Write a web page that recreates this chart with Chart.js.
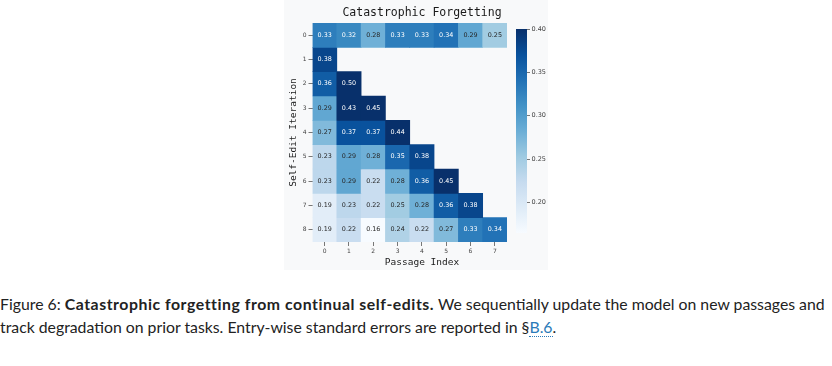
<!DOCTYPE html>
<html lang="en">
<head>
<meta charset="utf-8">
<title>Catastrophic Forgetting</title>
<style>
body, html { margin: 0; background: #fff; }
#panel { position: absolute; left: 284px; top: 0; width: 264px; height: 270px; background: #f8f9fa; }
#heat { position: absolute; left: 284px; top: 0; }
#cbar { position: absolute; left: 510px; top: 0; }
#caption { position: absolute; left: 0; top: 292px; width: 832px; font-family: Lato, sans-serif; font-size: 15.8px; line-height: 23px; color: #222; }
#caption div { white-space: nowrap; }
#caption b { letter-spacing: 0.55px; }
#caption a { color: #2a7ab8; text-decoration: none; border-bottom: 1px dotted #2a7ab8; }
</style>
<script src="https://cdn.jsdelivr.net/npm/chart.js@4"></script>
</head>
<body>
<div id="panel"></div>
<canvas id="heat" width="276" height="270"></canvas>
<canvas id="cbar" width="50" height="270"></canvas>
<div id="caption">
  <div>Figure 6: <b>Catastrophic forgetting from continual self-edits.</b> We sequentially update the model on new passages and</div>
  <div>track degradation on prior tasks. Entry-wise standard errors are reported in §<a href="#">B.6</a>.</div>
</div>
<script>
// data
const passages = ['0', '1', '2', '3', '4', '5', '6', '7'];
const iterations = [0, 1, 2, 3, 4, 5, 6, 7, 8];
const row0 = [0.33, 0.32, 0.28, 0.33, 0.33, 0.34, 0.29, 0.25];
const row1 = [0.38];
const row2 = [0.36, 0.50];
const row3 = [0.29, 0.43, 0.45];
const row4 = [0.27, 0.37, 0.37, 0.44];
const row5 = [0.23, 0.29, 0.28, 0.35, 0.38];
const row6 = [0.23, 0.29, 0.22, 0.28, 0.36, 0.45];
const row7 = [0.19, 0.23, 0.22, 0.25, 0.28, 0.36, 0.38];
const row8 = [0.19, 0.22, 0.16, 0.24, 0.22, 0.27, 0.33, 0.34];
const rows = [row0, row1, row2, row3, row4, row5, row6, row7, row8];
const cbarTicks = [0.20, 0.25, 0.30, 0.35, 0.40];
const vmin = 0.165, vmax = 0.40;

const MONO = '"DejaVu Sans Mono", monospace';
const SANS = '"DejaVu Sans", sans-serif';

// matplotlib "Blues"
const blueStops = ['#f7fbff', '#deebf7', '#c6dbef', '#9ecae1', '#6baed6', '#4292c6', '#2171b5', '#08519c', '#08306b'];
function hexRgb(h) { return [1, 3, 5].map(i => parseInt(h.substr(i, 2), 16)); }
function blues(v) {
    let t = (v - vmin) / (vmax - vmin);
    t = Math.max(0, Math.min(1, t)) * 8;
    const i = Math.min(7, Math.floor(t)), f = t - i;
    const a = hexRgb(blueStops[i]), b = hexRgb(blueStops[i + 1]);
    const c = a.map((x, k) => Math.round(x + (b[k] - x) * f));
    return 'rgb(' + c.join(',') + ')';
}

// numbers inside the cells
const cellText = {
    id: 'cellText',
    afterDatasetsDraw(chart) {
        const ctx = chart.ctx;
        ctx.save();
        ctx.font = '6.4px ' + SANS;
        ctx.textAlign = 'center';
        ctx.textBaseline = 'middle';
        chart.data.datasets.forEach((ds, r) => {
            chart.getDatasetMeta(r).data.forEach((el, c) => {
                const v = rows[r][c];
                if (v === undefined) return;
                ctx.fillStyle = v >= 0.30 ? '#ffffff' : '#262626';
                ctx.fillText(v.toFixed(2), el.x, (el.y + el.base) / 2);
            });
        });
        ctx.restore();
    }
};

const datasets = iterations.map((it, r) => ({
    label: 'Iteration ' + it,
    data: passages.map((p, c) => c < rows[r].length ? [it - 0.5, it + 0.5] : null),
    backgroundColor: passages.map((p, c) => c < rows[r].length ? blues(rows[r][c]) : 'transparent'),
    borderWidth: 0,
    barPercentage: 1,
    categoryPercentage: 1
}));

const tickFont = { family: SANS, size: 6 };

new Chart(document.getElementById('heat'), {
    type: 'bar',
    data: { labels: passages, datasets: datasets },
    options: {
        responsive: false,
        animation: false,
        layout: { padding: 0 },
        plugins: {
            legend: { display: false },
            tooltip: { enabled: false },
            title: {
                display: true,
                text: 'Catastrophic Forgetting',
                color: '#1a1a1a',
                font: { family: MONO, size: 11.5, weight: 'normal' },
                padding: { top: 6, bottom: 3.2 }
            },
            subtitle: {
                display: true,
                position: 'bottom',
                text: 'Passage Index',
                color: '#1a1a1a',
                font: { family: MONO, size: 9.5, weight: 'normal' },
                padding: { top: 1, bottom: 1.6 }
            }
        },
        scales: {
            x: {
                stacked: true,
                offset: true,
                grid: { offset: false, drawOnChartArea: false, tickLength: 4, tickColor: '#555', tickWidth: 0.8 },
                border: { display: false },
                ticks: { font: tickFont, color: '#444', padding: 2, maxRotation: 0 },
                afterFit: s => { s.height = 14; }
            },
            y: {
                type: 'linear',
                reverse: true,
                min: -0.5,
                max: 8.5,
                afterBuildTicks: s => { s.ticks = iterations.map(v => ({ value: v })); },
                ticks: { font: tickFont, color: '#444', padding: 2, callback: v => String(v) },
                grid: { drawOnChartArea: false, tickLength: 4, tickColor: '#555', tickWidth: 0.8 },
                border: { display: false },
                title: {
                    display: true,
                    text: 'Self-Edit Iteration',
                    color: '#1a1a1a',
                    font: { family: MONO, size: 9.5 },
                    padding: { top: 3.5, bottom: 0 }
                },
                afterFit: s => { s.width = 28.5; }
            },
            pad: {
                type: 'linear',
                position: 'right',
                grid: { display: false },
                ticks: { display: false },
                border: { display: false },
                afterFit: s => { s.width = 53; }
            }
        }
    },
    plugins: [cellText]
});

// colour bar
function barGradient(chart) {
    const area = chart.chartArea;
    if (!area) return blues(vmax);
    const g = chart.ctx.createLinearGradient(0, area.bottom, 0, area.top);
    blueStops.forEach((col, i) => g.addColorStop(i / 8, col));
    return g;
}

new Chart(document.getElementById('cbar'), {
    type: 'bar',
    data: {
        labels: [''],
        datasets: [{
            data: [[vmin, vmax]],
            backgroundColor: c => barGradient(c.chart),
            borderWidth: 0,
            barPercentage: 1,
            categoryPercentage: 1
        }]
    },
    options: {
        responsive: false,
        animation: false,
        layout: { padding: { left: 6, top: 29, bottom: 37, right: 0 } },
        plugins: { legend: { display: false }, tooltip: { enabled: false } },
        scales: {
            x: { display: false, offset: true },
            y: {
                position: 'right',
                min: vmin,
                max: vmax,
                afterBuildTicks: s => { s.ticks = cbarTicks.map(v => ({ value: v })); },
                ticks: { font: { family: SANS, size: 6.5 }, color: '#444', padding: 1.5, callback: v => v.toFixed(2) },
                grid: { drawOnChartArea: false, tickLength: 3, tickColor: '#555', tickWidth: 0.8 },
                border: { display: false },
                afterFit: s => { s.width = 33; }
            }
        }
    }
});
</script>
</body>
</html>
